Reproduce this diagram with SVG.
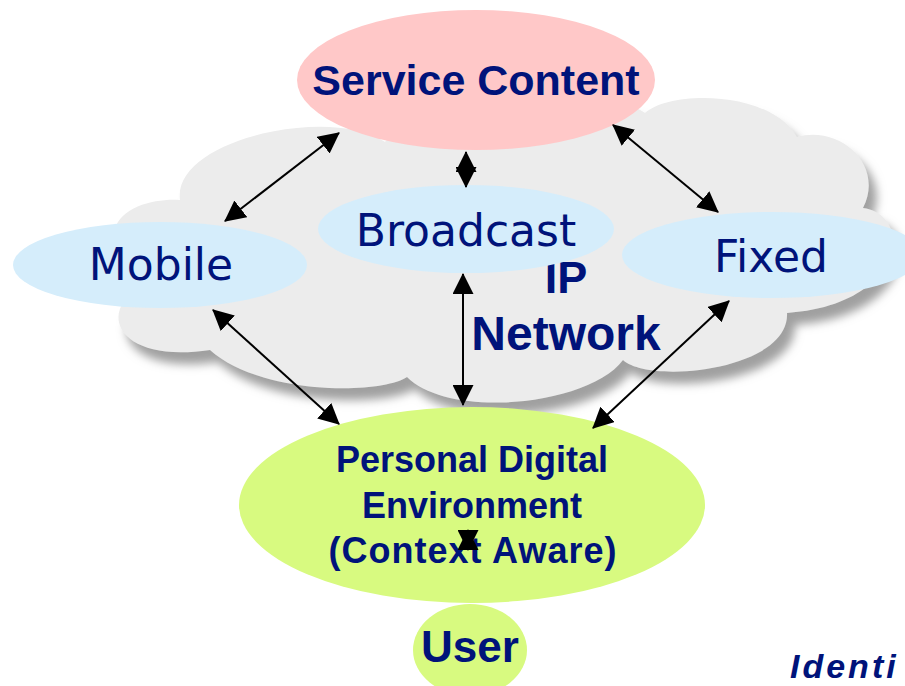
<svg xmlns="http://www.w3.org/2000/svg" width="905" height="686" viewBox="0 0 905 686">
<defs>
<style>
.reg{font-family:"DejaVu Sans",Verdana,sans-serif;font-size:44px;fill:#00137a;text-anchor:middle}
.bold{font-family:"Liberation Sans",Arial,sans-serif;font-weight:bold;fill:#00137a;text-anchor:middle}
.conn{stroke:#000;stroke-width:2;fill:none;marker-start:url(#ah);marker-end:url(#ah)}
</style>
<marker id="ah" markerUnits="userSpaceOnUse" viewBox="0 0 20 20" refX="19" refY="10" markerWidth="21" markerHeight="21" orient="auto-start-reverse">
<path d="M0,0 L20,10 L0,20 Z" fill="#000"/>
</marker>
<filter id="sh" x="-10%" y="-10%" width="130%" height="140%">
<feGaussianBlur in="SourceAlpha" stdDeviation="5" result="b"/>
<feOffset in="b" dx="8" dy="12" result="o"/>
<feFlood flood-color="#a0a0a0"/>
<feComposite in2="o" operator="in" result="s"/>
<feMerge><feMergeNode in="s"/><feMergeNode in="SourceGraphic"/></feMerge>
</filter>
</defs>
<rect width="905" height="686" fill="#fff"/>
<g id="ip-network">
<path filter="url(#sh)" fill="#ececec" d="M180,200 C172,140 330,105 385,142 C420,100 600,80 645,113 C670,90 770,90 797,137 C840,125 885,165 863,208 C915,215 905,305 787,313 C790,370 650,385 623,360 C590,405 450,420 407,377 C380,395 260,395 210,350 C130,362 105,325 125,300 L115,230 C120,205 160,198 180,200 Z"/>
<text class="bold" x="566" y="293" font-size="45">IP</text>
<text class="bold" x="566" y="350" font-size="48">Network</text>
</g>
<g id="service-content">
<ellipse cx="476" cy="80" rx="179" ry="70" fill="#ffc8c8"/>
<text class="bold" x="476" y="95" font-size="43">Service Content</text>
</g>
<g id="broadcast">
<ellipse cx="466" cy="229" rx="148" ry="44" fill="#d5edfb"/>
<text class="reg" x="466" y="246">Broadcast</text>
</g>
<g id="mobile">
<ellipse cx="160" cy="265" rx="147" ry="43" fill="#d5edfb"/>
<text class="reg" x="161" y="280">Mobile</text>
</g>
<g id="fixed">
<ellipse cx="772" cy="255" rx="150" ry="43" fill="#d5edfb"/>
<text class="reg" x="771" y="272">Fixed</text>
</g>
<g id="pde">
<ellipse cx="472" cy="505" rx="233" ry="98" fill="#d8fa80"/>
<text class="bold" x="472" y="472" font-size="36">Personal Digital</text>
<text class="bold" x="472" y="518" font-size="36">Environment</text>
<text class="bold" x="473" y="563" font-size="36" letter-spacing="1">(Context Aware)</text>
</g>
<g id="user">
<ellipse cx="470" cy="650" rx="57" ry="46" fill="#d8fa80"/>
<text class="bold" x="470" y="662" font-size="44">User</text>
</g>
<g id="identity">
<text x="790" y="678" font-family="Liberation Sans, Arial, sans-serif" font-weight="bold" font-style="italic" font-size="34" letter-spacing="3" fill="#00137a">Identi</text>
</g>
<g id="connectors">
<line class="conn" x1="225" y1="221" x2="339" y2="133"/>
<line class="conn" x1="613" y1="125" x2="718" y2="212"/>
<line class="conn" x1="466" y1="187" x2="466" y2="152"/>
<line class="conn" x1="463" y1="274" x2="463" y2="405"/>
<line class="conn" x1="213" y1="310" x2="339" y2="424"/>
<line class="conn" x1="729" y1="301" x2="593" y2="428"/>
<line class="conn" x1="468" y1="550" x2="468" y2="530"/>
</g>
</svg>
